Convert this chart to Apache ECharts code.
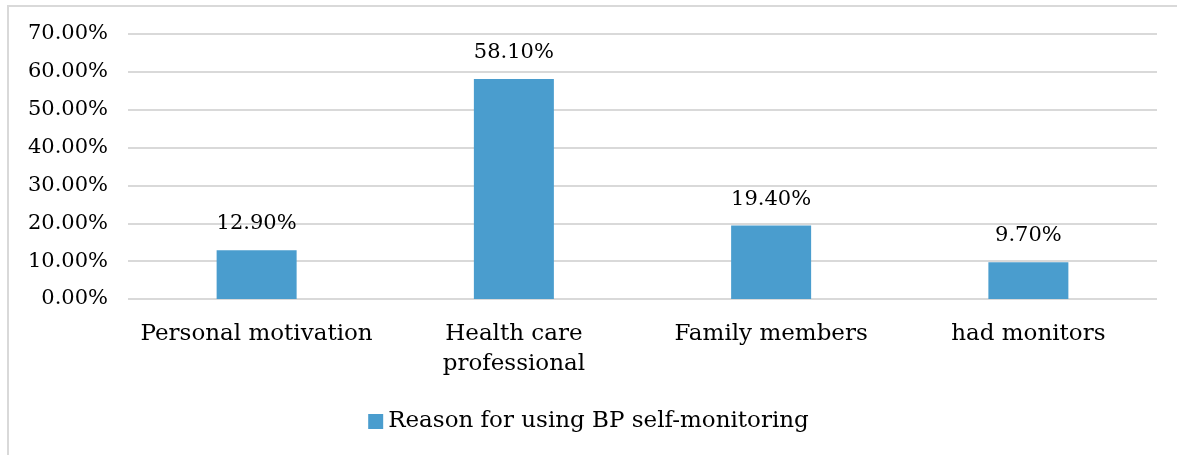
<!DOCTYPE html>
<html><head><meta charset="utf-8">
<script src="https://cdn.jsdelivr.net/npm/echarts@6/dist/echarts.min.js"></script>
<style>
html,body{margin:0;padding:0;background:#fff;overflow:hidden;}
#frame{position:absolute;left:7px;top:5px;width:1300px;height:600px;border:2px solid #d9d9d9;box-sizing:border-box;}
#c{position:absolute;left:0;top:0;width:1177px;height:455px;}
</style></head>
<body>
<div id="frame"></div>
<div id="c"></div>
<script>
const categories = ["Personal motivation", "Health care\nprofessional", "Family members", "had monitors"];
const values = [12.9, 58.1, 19.4, 9.7];
const seriesName = "Reason for using BP self-monitoring";
const FONT = "DejaVu Serif";
const chart = echarts.init(document.getElementById('c'), null, {renderer:'canvas'});
chart.setOption({
  animation:false,
  backgroundColor:'transparent',
  textStyle:{fontFamily:FONT},
  grid:{left:128,right:20,top:34,bottom:156,containLabel:false},
  legend:{bottom:17,left:'center',itemWidth:15,itemHeight:15,itemGap:5,icon:'rect',
    textStyle:{fontFamily:FONT,fontSize:23,color:'#000'},data:[seriesName]},
  xAxis:{type:'category',data:categories,
    axisLine:{show:false},axisTick:{show:false},
    axisLabel:{fontFamily:FONT,fontSize:23,color:'#000',margin:20,lineHeight:30,interval:0}},
  yAxis:{type:'value',min:0,max:70,interval:10,
    axisLine:{show:false},axisTick:{show:false},
    splitLine:{lineStyle:{color:'#d9d9d9',width:2}},
    axisLabel:{fontFamily:FONT,fontSize:21,color:'#000',margin:20,
      formatter:v=>v.toFixed(2)+'%'}},
  series:[{name:seriesName,type:'bar',data:values,barWidth:80,
    itemStyle:{color:'#4a9dce'},
    label:{show:true,position:'top',distance:16,fontFamily:FONT,fontSize:21,color:'#000',
      formatter:p=>p.value.toFixed(2)+'%'}}]
});
</script>
</body></html>
